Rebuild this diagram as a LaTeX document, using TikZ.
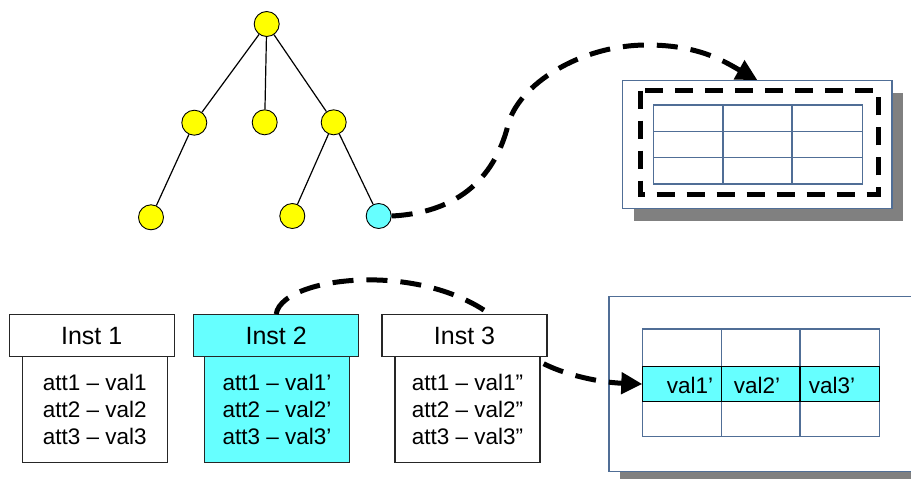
\documentclass[tikz,border=0pt]{standalone}
\usepackage{fontspec}
\setmainfont{Liberation Sans}
\usetikzlibrary{arrows.meta}
\definecolor{cyanfill}{RGB}{102,255,255}
\definecolor{treeyellow}{RGB}{255,255,0}
\definecolor{boxblue}{RGB}{80,110,150}
\definecolor{shadowgray}{RGB}{128,128,128}
\begin{document}
\begin{tikzpicture}[x=1pt,y=1pt,
  tnode/.style={circle,draw=black,line width=0.9pt,fill=treeyellow,minimum size=25pt,inner sep=0pt},
  tedge/.style={line width=1.2pt,black},
  outerbox/.style={draw=boxblue,line width=1.3pt,fill=white,inner sep=0pt},
  gridline/.style={draw=boxblue,line width=1.2pt},
  bigdash/.style={line width=5pt,dash pattern=on 18pt off 12pt},
  dasharrow/.style={line width=5pt,dash pattern=on 21pt off 13pt,-{Triangle[length=21pt,width=21pt]}},
  hdr/.style={draw=black!85,line width=1.1pt,fill=white,minimum width=165pt,minimum height=42pt,inner sep=0pt,font=\fontsize{25}{30}\selectfont},
  body/.style={draw=black!85,line width=1.1pt,fill=white,minimum width=145pt,minimum height=106pt,inner sep=0pt,align=center,font=\fontsize{22.5}{27}\selectfont},
  celltext/.style={inner sep=0pt,font=\fontsize{22.5}{27}\selectfont}
]
\clip (0,0) rectangle (911,-479);
\fill[white] (0,0) rectangle (911,-479);

% ---------- top-right table ----------
\fill[shadowgray] (634,-92.5) rectangle (903,-221);
\node[outerbox,minimum width=269.3pt,minimum height=128pt] (tb1) at (757.35,-144.7) {};
\draw[gridline] (653.3,-105) rectangle (862.3,-184);
\foreach \xx in {723,792} \draw[gridline] (\xx,-105) -- (\xx,-184);
\foreach \yy in {131.7,157.7} \draw[gridline] (653.3,-\yy) -- (862.3,-\yy);
\draw[bigdash] (640,-90.7) rectangle (878,-194);

% ---------- bottom-right table ----------
\fill[shadowgray] (620,-307) rectangle (930,-485);
\node[outerbox,minimum width=330pt,minimum height=175pt,anchor=north west] (tb2) at (608.3,-295.5) {};
\draw[gridline] (642.3,-329) rectangle (879.3,-436.7);
\foreach \xx in {721.7,800} \draw[gridline] (\xx,-329) -- (\xx,-436.7);
\node[draw=black,line width=1.1pt,fill=cyanfill,minimum width=237pt,minimum height=35pt,inner sep=0pt,anchor=north west] (row) at (642.3,-366) {};
\foreach \xx in {721.7,800} \draw[black,line width=1.1pt] (\xx,-366) -- (\xx,-401);
\node[celltext] (v1) at (690,-385) {val1’};
\node[celltext] (v2) at (757,-385) {val2’};
\node[celltext] (v3) at (832,-385) {val3’};

% ---------- tree ----------
\node[tnode] (root) at (266.7,-24) {};
\node[tnode] (m1) at (194.3,-122.7) {};
\node[tnode] (m2) at (264.7,-122.3) {};
\node[tnode] (m3) at (333.7,-122.3) {};
\node[tnode] (l1) at (151,-217.3) {};
\node[tnode] (l2) at (292.3,-216) {};
\node[tnode,fill=cyanfill] (l3) at (378.7,-216) {};
\draw[tedge] (root) -- (m1);
\draw[tedge] (root) -- (m2);
\draw[tedge] (root) -- (m3);
\draw[tedge] (m1) -- (l1);
\draw[tedge] (m3) -- (l2);
\draw[tedge] (m3) -- (l3);

% ---------- instances ----------
\node[hdr,fill=cyanfill] (h2) at (276.2,-335.7) {Inst 2};
\node[body,fill=cyanfill] (b2) at (277,-409.7) {att1 – val1’\\att2 – val2’\\att3 – val3’};

% ---------- dashed connectors ----------
\draw[dasharrow] (l3.east) .. controls (470,-212) and (498,-165) .. (508,-125)
  .. controls (518,-85) and (580,-45) .. (647,-45)
  .. controls (700,-45) and (725,-62) .. (tb1.north);
\draw[dasharrow] (h2.north) .. controls (282,-272) and (460,-255) .. (520,-345)
  .. controls (535,-368) and (590,-382) .. (row.west);

\node[hdr] (h1) at (91.7,-335.7) {Inst 1};
\node[body] (b1) at (94.8,-409.7) {att1 – val1\\att2 – val2\\att3 – val3};
\node[hdr] (h3) at (464.5,-335.7) {Inst 3};
\node[body] (b3) at (467.5,-409.7) {att1 – val1”\\att2 – val2”\\att3 – val3”};
\end{tikzpicture}
\end{document}
